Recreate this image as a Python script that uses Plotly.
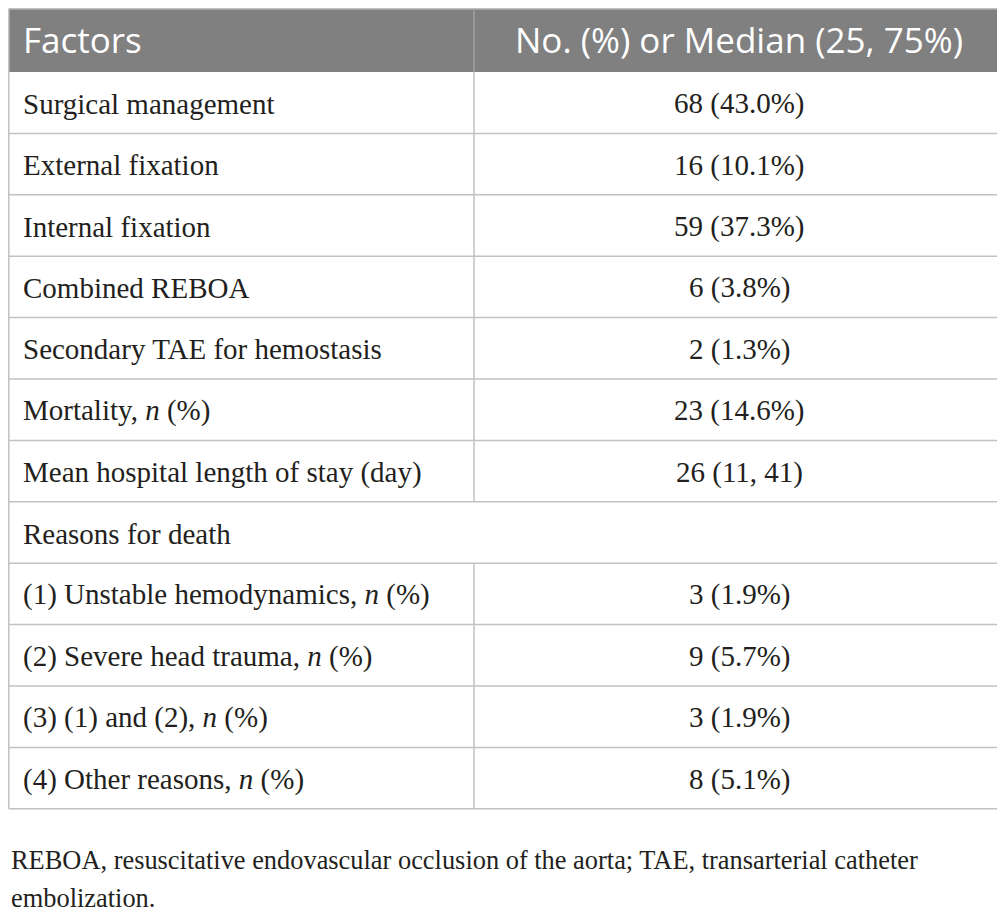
import plotly.graph_objects as go

# table content
header = ["Factors", "No. (%) or Median (25, 75%)"]
factors = [
    "Surgical management",
    "External fixation",
    "Internal fixation",
    "Combined REBOA",
    "Secondary TAE for hemostasis",
    "Mortality, <i>n</i> (%)",
    "Mean hospital length of stay (day)",
    "Reasons for death",
    "(1) Unstable hemodynamics, <i>n</i> (%)",
    "(2) Severe head trauma, <i>n</i> (%)",
    "(3) (1) and (2), <i>n</i> (%)",
    "(4) Other reasons, <i>n</i> (%)",
]
values = [
    "68 (43.0%)",
    "16 (10.1%)",
    "59 (37.3%)",
    "6 (3.8%)",
    "2 (1.3%)",
    "23 (14.6%)",
    "26 (11, 41)",
    "",
    "3 (1.9%)",
    "9 (5.7%)",
    "3 (1.9%)",
    "8 (5.1%)",
]
footnote = [
    "REBOA, resuscitative endovascular occlusion of the aorta; TAE, transarterial catheter",
    "embolization.",
]

# layout geometry, in page pixels (the page body has an 8px margin,
# so nothing can go left of / above 8)
PAGE_W, PAGE_H, OFF = 1005, 924, 8
LEFT, RIGHT, SPLIT = 8.8, 1004, 474
HEAD_TOP, HEAD_BOT = 8.8, 72
ROW_H = 61.4
LINE = "#c2c2c2"
TEXT = "#231f20"
SERIF = "Liberation Serif"
SANS = "Open Sans"

n = len(factors)
bottom = HEAD_BOT + n * ROW_H

fig = go.Figure()
shapes = []
annotations = []

# header band
shapes.append(dict(type="rect", x0=LEFT, x1=RIGHT, y0=HEAD_TOP, y1=HEAD_BOT,
                   fillcolor="#808080", line=dict(width=0), layer="below"))
shapes.append(dict(type="line", x0=LEFT, x1=RIGHT, y0=HEAD_TOP, y1=HEAD_TOP,
                   line=dict(color=LINE, width=1.5)))
shapes.append(dict(type="line", x0=SPLIT, x1=SPLIT, y0=HEAD_TOP, y1=HEAD_BOT,
                   line=dict(color="#a8a8a8", width=1.2)))
annotations.append(dict(x=21, y=39, text=header[0],
                        xanchor="left", yanchor="middle", showarrow=False,
                        font=dict(family=SANS, size=35, color="white")))
annotations.append(dict(x=(SPLIT + RIGHT) / 2, y=39,
                        text=header[1], xanchor="center", yanchor="middle",
                        showarrow=False,
                        font=dict(family=SANS, size=35, color="white")))

# outer borders
for x in (LEFT, RIGHT):
    shapes.append(dict(type="line", x0=x, x1=x, y0=HEAD_TOP, y1=bottom,
                       line=dict(color=LINE, width=1.5)))

# body rows
for i, (f, v) in enumerate(zip(factors, values)):
    y0 = HEAD_BOT + i * ROW_H
    y1 = y0 + ROW_H
    yc = (y0 + y1) / 2
    shapes.append(dict(type="line", x0=LEFT, x1=RIGHT, y0=y1, y1=y1,
                       line=dict(color=LINE, width=1.5)))
    if v != "":
        shapes.append(dict(type="line", x0=SPLIT, x1=SPLIT, y0=y0, y1=y1,
                           line=dict(color=LINE, width=1.5)))
    annotations.append(dict(x=21, y=yc + 1, text=f, xanchor="left",
                            yanchor="middle", showarrow=False,
                            font=dict(family=SERIF, size=29, color=TEXT)))
    if v:
        annotations.append(dict(x=(SPLIT + RIGHT) / 2, y=yc + 1, text=v,
                                xanchor="center", yanchor="middle",
                                showarrow=False,
                                font=dict(family=SERIF, size=29, color=TEXT)))

# footnote
for j, line in enumerate(footnote):
    annotations.append(dict(x=8.5, y=860 + j * 38, text=line, xanchor="left",
                            yanchor="middle", showarrow=False,
                            font=dict(family=SERIF, size=26.4, color=TEXT)))

for a in annotations:
    a.update(xref="x", yref="y")
for s in shapes:
    s.update(xref="x", yref="y")

fig.update_layout(
    width=PAGE_W - OFF, height=PAGE_H - OFF,
    margin=dict(l=0, r=0, t=0, b=0),
    paper_bgcolor="white", plot_bgcolor="white",
    shapes=shapes, annotations=annotations,
    showlegend=False,
    xaxis=dict(range=[OFF, PAGE_W], visible=False, fixedrange=True),
    yaxis=dict(range=[PAGE_H, OFF], visible=False, fixedrange=True),
)

fig.write_html("out.html")
